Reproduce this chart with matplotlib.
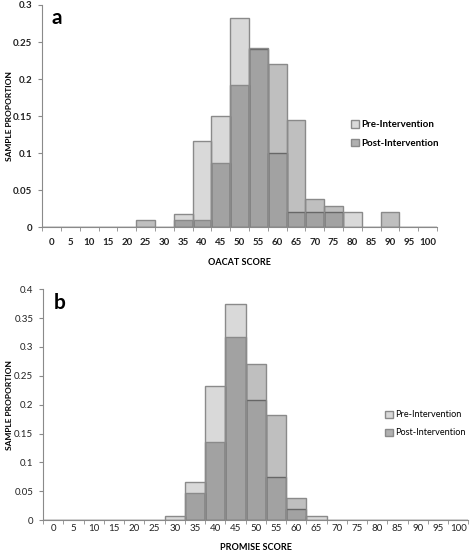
import numpy as np
import matplotlib.pyplot as plt
from matplotlib.patches import Patch

plt.rcParams['font.family'] = ['Lato', 'DejaVu Sans']

scores = list(range(0, 101, 5))

# panel a - OACAT score
oacat_pre = [0, 0, 0, 0, 0, 0, 0, 0.018, 0.116, 0.15, 0.283, 0.24, 0.10,
             0.02, 0.02, 0.02, 0.02, 0, 0, 0, 0]
oacat_post = [0, 0, 0, 0, 0, 0.01, 0, 0.01, 0.01, 0.086, 0.192, 0.242, 0.22,
              0.145, 0.038, 0.029, 0, 0, 0.02, 0, 0]

# panel b - PROMISE score
promise_pre = [0, 0, 0, 0, 0, 0, 0.008, 0.066, 0.233, 0.375, 0.208, 0.075,
               0.02, 0.008, 0, 0, 0, 0, 0, 0, 0]
promise_post = [0, 0, 0, 0, 0, 0, 0, 0.047, 0.135, 0.318, 0.27, 0.183,
                0.038, 0, 0, 0, 0, 0, 0, 0, 0]

pre_col = (0, 0, 0, 0.15)
post_col = (0, 0, 0, 0.25)
edge = '#8a8a8a'

fig = plt.figure(figsize=(4.73, 5.54), dpi=100)


def panel(rect, pre, post, ymax, xlabel, letter, bold, xpad, ylab_x, xlab_y, leg_xy, leg_size):
    ax = fig.add_axes(rect)
    x = np.arange(len(scores))
    w = 'bold' if bold else 'normal'
    ax.bar(x, pre, width=1.0, color=pre_col, edgecolor=edge, linewidth=1)
    ax.bar(x, post, width=1.0, color=post_col, edgecolor=edge, linewidth=1)
    ax.set_xlim(-0.5, len(scores) - 0.5)
    ax.set_ylim(0, ymax)
    ax.set_xticks(x)
    ax.set_xticklabels([str(s) for s in scores], fontsize=7, fontweight=w, color='#222222')
    ax.set_xticks(np.arange(-0.5, len(scores)), minor=True)
    ax.tick_params(axis='x', which='major', length=0, pad=xpad)
    ax.tick_params(axis='x', which='minor', length=3, color=edge, direction='out')
    yt = np.round(np.arange(0, ymax + 1e-9, 0.05), 2)
    ax.set_yticks(yt)
    ax.set_yticklabels(['0' if v == 0 else ('%g' % v) for v in yt], fontsize=7,
                       fontweight=w, color='#222222')
    ax.tick_params(axis='y', length=3, color=edge, pad=4)
    for s in ['top', 'right']:
        ax.spines[s].set_visible(False)
    for s in ['left', 'bottom']:
        ax.spines[s].set_color(edge)
    ax.set_xlabel(xlabel, fontsize=6.5, fontweight='bold')
    ax.xaxis.set_label_coords(0.5, xlab_y)
    ax.set_ylabel('SAMPLE PROPORTION', fontsize=6, fontweight='bold')
    ax.yaxis.set_label_coords(ylab_x, 0.5)
    ax.text(0.025, 0.985, letter, transform=ax.transAxes, fontsize=15,
            fontweight='bold', va='top', ha='left')
    handles = [Patch(facecolor='#d9d9d9', edgecolor=edge, label='Pre-Intervention'),
               Patch(facecolor='#b0b0b0', edgecolor=edge, label='Post-Intervention')]
    fig.legend(handles=handles, loc='center left', bbox_to_anchor=leg_xy,
               frameon=False, prop={'size': leg_size, 'weight': w}, handlelength=0.8,
               handleheight=0.8, handletextpad=0.3, labelspacing=1.0, borderpad=0,
               borderaxespad=0)
    return ax


panel([0.089, 0.590, 0.835, 0.401], oacat_pre, oacat_post, 0.3,
      'OACAT SCORE', 'a', True, 8, -0.074, -0.14, (0.742, 0.758), 7)
panel([0.091, 0.061, 0.899, 0.417], promise_pre, promise_post, 0.4,
      'PROMISE SCORE', 'b', False, 3, -0.071, -0.10, (0.815, 0.235), 6.6)

fig.savefig('out.png', dpi=100)
